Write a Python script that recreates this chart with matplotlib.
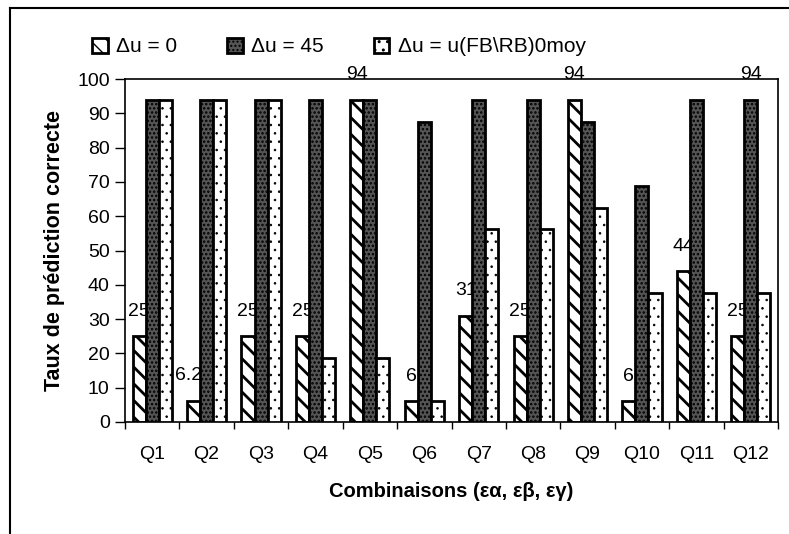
import matplotlib
matplotlib.use("Agg")
import matplotlib.pyplot as plt
from matplotlib.patches import Patch
from matplotlib.lines import Line2D
import numpy as np

# Data
categories = ["Q1", "Q2", "Q3", "Q4", "Q5", "Q6", "Q7", "Q8", "Q9", "Q10", "Q11", "Q12"]
du_zero = [25, 6.25, 25, 25, 94, 6, 31, 25, 94, 6, 44, 25]
du_45 = [94, 94, 94, 94, 94, 87.5, 94, 94, 87.5, 68.75, 94, 94]
du_moy = [94, 94, 94, 18.75, 18.75, 6.25, 56.25, 56.25, 62.5, 37.5, 37.5, 37.5]
zero_labels = ["25", "6.25", "25", "25", "94", "6", "31", "25", "94", "6", "44", "25"]
series_names = ["Δu = 0", "Δu = 45", "Δu = u(FB\\RB)0moy"]
y_ticks = list(range(0, 101, 10))

plt.rcParams["font.family"] = ["Liberation Sans", "DejaVu Sans"]
FS = 14

# fill styles: (face, hatch, hatch line width)
styles = [
    ("white", "\\\\", 2.0),
    ("#555555", "....", 1.2),
    ("white", "..", 0.6),
]


def set_hlw(artist, lw):
    if hasattr(artist, "set_hatch_linewidth"):
        artist.set_hatch_linewidth(lw)


fig = plt.figure(figsize=(7.89, 5.34), dpi=100)
W, H = 789, 534
ax = fig.add_axes([125 / W, 1 - 422 / H, (778 - 125) / W, (422 - 79) / H])

x = np.arange(len(categories))
bw = 0.24
offsets = [-bw, 0, bw]
zorders = [2, 3, 3]

for vals, off, (fc, ht, hlw), zo in zip([du_zero, du_45, du_moy], offsets, styles, zorders):
    with plt.rc_context({"hatch.linewidth": hlw}):
        bars = ax.bar(x + off, vals, bw, facecolor=fc, edgecolor="black",
                      hatch=ht, linewidth=2, zorder=zo)
    for b in bars:
        set_hlw(b, hlw)

# value labels for the first series, sitting behind the neighbouring bars
for xi, v, s in zip(x - bw, du_zero, zero_labels):
    ax.annotate(s, (xi, v), xytext=(0, 18), textcoords="offset points",
                ha="center", va="center", fontsize=FS, zorder=2.5)
ax.annotate("94", (x[-1], du_45[-1]), xytext=(0, 18), textcoords="offset points",
            ha="center", va="center", fontsize=FS, zorder=4)

ax.set_xlim(-0.5, len(categories) - 0.5)
ax.set_ylim(0, 100)
ax.set_yticks(y_ticks)
ax.set_xticks(x)
ax.set_xticklabels(categories)
ax.set_xticks(np.arange(-0.5, len(categories)), minor=True)
ax.tick_params(axis="x", which="major", length=0, pad=17, labelsize=FS)
ax.tick_params(axis="x", which="minor", length=5, width=1, direction="out")
ax.tick_params(axis="y", length=7, width=1, direction="out", pad=4, labelsize=FS)
for sp in ax.spines.values():
    sp.set_linewidth(1.2)
    sp.set_color("black")

ax.set_ylabel("Taux de prédiction correcte", fontsize=15.5, fontweight="bold", labelpad=9)
ax.set_xlabel("Combinaisons (εα, εβ, εγ)", fontsize=14.5, fontweight="bold", labelpad=14)

handles = []
for fc, ht, hlw in styles:
    with plt.rc_context({"hatch.linewidth": hlw}):
        p = Patch(facecolor=fc, edgecolor="black", hatch=ht, linewidth=2)
    set_hlw(p, hlw)
    handles.append(p)
fig.legend(handles, series_names, loc="center left",
           bbox_to_anchor=(92 / W, 1 - 47 / H), ncol=3, frameon=False,
           fontsize=15, handlelength=0.75, handleheight=0.75, handletextpad=0.4,
           columnspacing=2.4, borderpad=0, borderaxespad=0)

# outer frame around the chart
fig.add_artist(Line2D([10 / W, 1.0], [1 - 8 / H, 1 - 8 / H], transform=fig.transFigure,
                      color="black", linewidth=1.5))
fig.add_artist(Line2D([10 / W, 10 / W], [0.0, 1 - 8 / H], transform=fig.transFigure,
                      color="black", linewidth=1.5))

fig.savefig("out.png", dpi=100)
